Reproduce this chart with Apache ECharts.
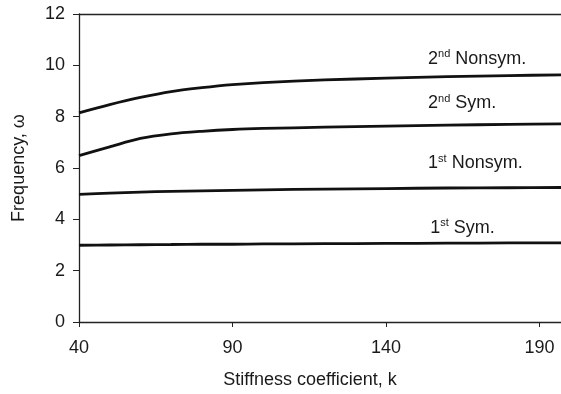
<!DOCTYPE html>
<html>
<head>
<meta charset="utf-8">
<script src="https://cdn.jsdelivr.net/npm/echarts@6/dist/echarts.min.js"></script>
<style>
  html, body { margin: 0; padding: 0; background: #fff; }
  #chart { width: 561px; height: 394px; }
</style>
</head>
<body>
<div id="chart"></div>
<script>
// stiffness coefficient k
const kValues = [40, 50, 60, 70, 80, 90, 100, 120, 140, 160, 180, 197];
// frequencies
const nonsym2 = [8.15, 8.47, 8.75, 8.98, 9.13, 9.25, 9.33, 9.43, 9.50, 9.56, 9.60, 9.63];
const sym2 = [6.48, 6.82, 7.15, 7.33, 7.43, 7.50, 7.54, 7.59, 7.63, 7.67, 7.70, 7.72];
const nonsym1 = [4.97, 5.02, 5.06, 5.09, 5.11, 5.13, 5.15, 5.18, 5.20, 5.22, 5.23, 5.24];
const sym1 = [2.99, 3.00, 3.01, 3.02, 3.03, 3.03, 3.04, 3.05, 3.06, 3.07, 3.08, 3.08];
// curve labels: [k, omega] of the label's left/centre
const labelPos = {
  nonsym2: [153.7, 10.25],
  sym2: [153.7, 8.52],
  nonsym1: [153.7, 6.19],
  sym1: [154.4, 3.67]
};

const font = '"Liberation Sans", Arial, sans-serif';
const ink = '#1a1a1a';

function pairs(ys) {
  return kValues.map((k, i) => [k, ys[i]]);
}

function curve(name, ys, num, sup, word, pos) {
  return {
    name: name,
    type: 'line',
    data: pairs(ys),
    smooth: 0.3,
    symbol: 'none',
    lineStyle: { color: '#111', width: 2.8 },
    silent: true,
    markPoint: {
      symbol: 'circle',
      symbolSize: 0,
      data: [{ coord: pos }],
      label: {
        show: true,
        position: 'right',
        distance: 0,
        formatter: '{n|' + num + '}{s|' + sup + '}{w| ' + word + '}',
        rich: {
          n: { fontFamily: font, fontSize: 18, color: ink },
          s: { fontFamily: font, fontSize: 11, color: ink, verticalAlign: 'top', padding: [0, 0, 9, 0] },
          w: { fontFamily: font, fontSize: 18, color: ink }
        }
      }
    }
  };
}

let myChart = echarts.init(document.getElementById('chart'));
let option = {
  backgroundColor: '#fff',
  animation: false,
  grid: { left: 79, top: 14, right: 0, bottom: 71 },
  xAxis: [
    {
      type: 'value',
      min: 40,
      max: 197,
      interval: 50,
      name: 'Stiffness coefficient, k',
      nameLocation: 'middle',
      nameGap: 49,
      nameTextStyle: { fontFamily: font, fontSize: 18, color: ink, padding: [0, 20, 0, 0] },
      axisLine: { lineStyle: { color: '#222', width: 1.3 } },
      axisTick: { show: true, length: 5, inside: false, lineStyle: { color: '#222' } },
      axisLabel: { fontFamily: font, fontSize: 18, color: ink, margin: 17, showMaxLabel: false },
      splitLine: { show: false }
    },
    {
      type: 'value',
      position: 'top',
      min: 40,
      max: 197,
      axisLine: { show: true, lineStyle: { color: '#222', width: 1.3 } },
      axisTick: { show: false },
      axisLabel: { show: false },
      splitLine: { show: false }
    }
  ],
  yAxis: {
    type: 'value',
    min: 0,
    max: 12,
    interval: 2,
    name: 'Frequency, ω',
    nameLocation: 'middle',
    nameGap: 51,
    nameTextStyle: { fontFamily: font, fontSize: 18, color: ink },
    axisLine: { show: true, lineStyle: { color: '#222', width: 1.3 } },
    axisTick: { show: true, length: 6, lineStyle: { color: '#222' } },
    axisLabel: { fontFamily: font, fontSize: 18, color: ink, margin: 14 },
    splitLine: { show: false }
  },
  series: [
    curve('2nd Nonsym.', nonsym2, '2', 'nd', 'Nonsym.', labelPos.nonsym2),
    curve('2nd Sym.', sym2, '2', 'nd', 'Sym.', labelPos.sym2),
    curve('1st Nonsym.', nonsym1, '1', 'st', 'Nonsym.', labelPos.nonsym1),
    curve('1st Sym.', sym1, '1', 'st', 'Sym.', labelPos.sym1)
  ]
};
myChart.setOption(option);
</script>
</body>
</html>
